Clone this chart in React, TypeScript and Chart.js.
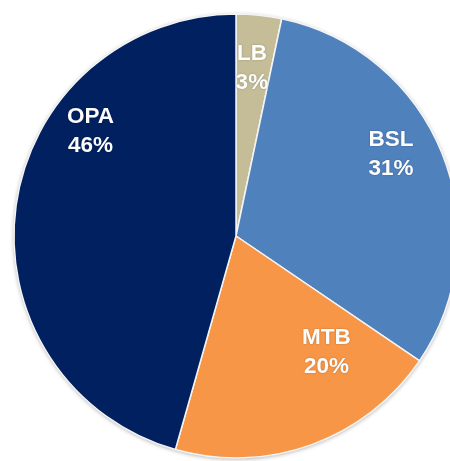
import React, { useEffect, useRef } from "react";
import { Chart, registerables } from "chart.js";

Chart.register(...registerables);

const categories = ["LB", "BSL", "MTB", "OPA"];
const shares = [3.3, 31.2, 19.9, 45.6];
const percentLabels = ["3%", "31%", "20%", "46%"];
const sliceColors = ["#C4BD97", "#4F81BD", "#F79646", "#002060"];

// label placement: [angle from 12 o'clock clockwise in degrees, fraction of radius]
const labelPlacement: [number, number][] = [
  [5.4, 0.76],
  [62.1, 0.79],
  [141.9, 0.66],
  [306, 0.81],
];

const shadowPlugin = {
  id: "pieShadow",
  beforeDatasetsDraw(chart: any) {
    const meta = chart.getDatasetMeta(0);
    const arc = meta.data[0];
    if (!arc) return;
    const { x, y, outerRadius } = arc.getProps(["x", "y", "outerRadius"], true);
    const ctx = chart.ctx;
    ctx.save();
    ctx.shadowColor = "rgba(0,0,0,0.35)";
    ctx.shadowBlur = 4;
    ctx.shadowOffsetX = 0;
    ctx.shadowOffsetY = 1;
    ctx.beginPath();
    ctx.arc(x, y, outerRadius, 0, Math.PI * 2);
    ctx.fillStyle = "#d8d8d8";
    ctx.fill();
    ctx.restore();
  },
};

const labelPlugin = {
  id: "sliceLabels",
  afterDatasetsDraw(chart: any) {
    const meta = chart.getDatasetMeta(0);
    const ctx = chart.ctx;
    ctx.save();
    ctx.font = "bold 22.5px 'Liberation Sans', Arial, sans-serif";
    ctx.textAlign = "center";
    ctx.textBaseline = "middle";
    ctx.fillStyle = "#fdfdfd";
    ctx.shadowColor = "rgba(0,0,0,0.25)";
    ctx.shadowBlur = 2;
    meta.data.forEach((arc: any, i: number) => {
      const { x, y, outerRadius } = arc.getProps(["x", "y", "outerRadius"], true);
      const [deg, frac] = labelPlacement[i];
      const a = (deg * Math.PI) / 180;
      const cx = x + Math.sin(a) * outerRadius * frac;
      const cy = y - Math.cos(a) * outerRadius * frac;
      ctx.fillText(categories[i], cx, cy - 14);
      ctx.fillText(percentLabels[i], cx, cy + 15);
    });
    ctx.restore();
  },
};

export default function App() {
  const ref = useRef<HTMLCanvasElement>(null);
  useEffect(() => {
    if (!ref.current) return;
    const chart = new Chart(ref.current, {
      type: "pie",
      data: {
        labels: categories,
        datasets: [
          {
            data: shares,
            backgroundColor: sliceColors,
            borderColor: "#f4f4f4",
            borderWidth: 1.5,
          },
        ],
      },
      options: {
        responsive: false,
        animation: false,
        radius: 222,
        layout: { padding: 0 },
        plugins: {
          legend: { display: false },
          tooltip: { enabled: false },
        },
      },
      plugins: [shadowPlugin, labelPlugin],
    });
    return () => chart.destroy();
  }, []);
  return (
    <div
      style={{
        position: "fixed",
        left: 0,
        top: 0,
        width: 472,
        height: 472,
        background: "#ffffff",
      }}
    >
      <canvas ref={ref} width={472} height={472} style={{ width: 472, height: 472 }} />
    </div>
  );
}
